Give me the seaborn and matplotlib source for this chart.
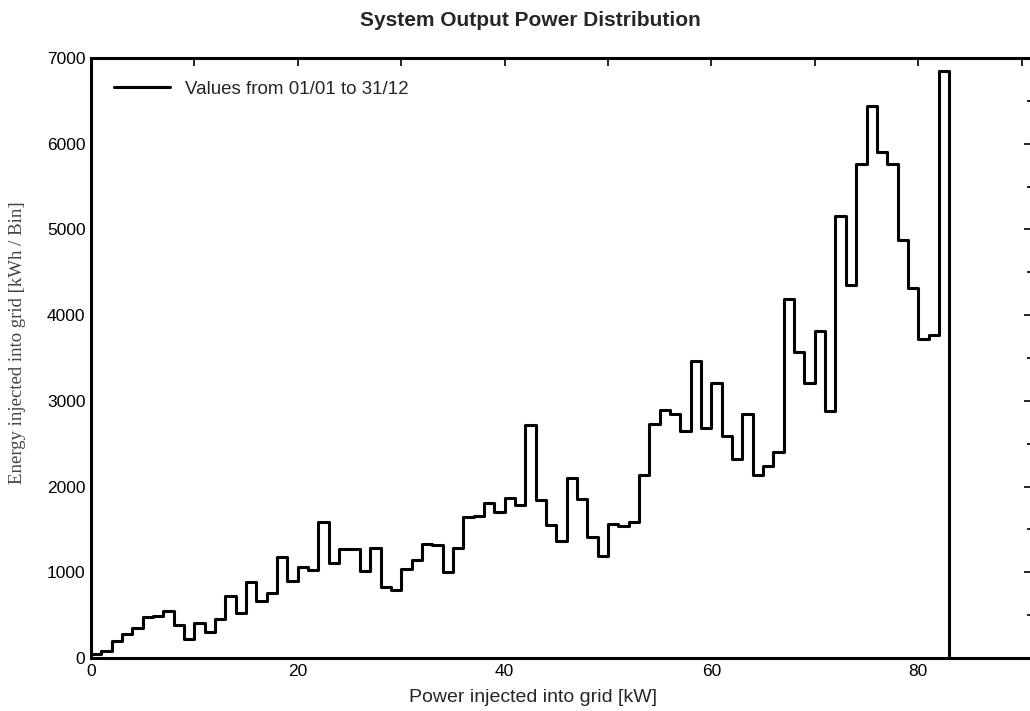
import numpy as np
import pandas as pd
import matplotlib
matplotlib.use("Agg")
import matplotlib.pyplot as plt
from matplotlib.ticker import MultipleLocator
import seaborn as sns

# Energy per 1 kW bin [kWh / Bin], bins 0-1 ... 82-83 kW
energy_kwh = [
    43, 82, 199, 277, 347, 483, 491, 546, 386, 219,
    413, 304, 456, 728, 522, 888, 670, 756, 1184, 900,
    1060, 1029, 1590, 1114, 1275, 1270, 1017, 1286, 834, 795,
    1040, 1138, 1333, 1313, 1009, 1282, 1640, 1652, 1808, 1699,
    1863, 1785, 2724, 1839, 1555, 1360, 2096, 1855, 1411, 1192,
    1566, 1543, 1582, 2139, 2730, 2891, 2841, 2646, 3464, 2685,
    3211, 2587, 2323, 2852, 2131, 2236, 2405, 4189, 3569, 3211,
    3815, 2876, 5159, 4352, 5763, 6438, 5907, 5763, 4878, 4314,
    3717, 3764, 6854,
]
bin_width_kw = 1
legend_label = "Values from 01/01 to 31/12"
title_text = "System Output Power Distribution"
xlabel_text = "Power injected into grid [kW]"
ylabel_text = "Energy injected into grid [kWh / Bin]"

edges = np.arange(len(energy_kwh) + 1) * bin_width_kw
vals = list(energy_kwh) + [0]
df = pd.DataFrame({"power": edges, "energy": vals})

sns.set_style("white")
plt.rcParams["font.family"] = ["Liberation Sans", "DejaVu Sans"]

fig = plt.figure(figsize=(10.30, 7.11), dpi=100)
W, H = 1030, 711
left, right, top, bottom = 91, 1032, 58, 658
ax = fig.add_axes([left / W, 1 - bottom / H, (right - left) / W, (bottom - top) / H])

sns.lineplot(data=df, x="power", y="energy", drawstyle="steps-post",
             color="black", linewidth=2.2, label=legend_label, ax=ax,
             estimator=None, sort=False)

ax.set_xlim(0, (right - left) / 10.34)
ax.set_ylim(0, 7000)
ax.xaxis.set_major_locator(MultipleLocator(20))
ax.xaxis.set_minor_locator(MultipleLocator(10))
ax.yaxis.set_major_locator(MultipleLocator(1000))
ax.yaxis.set_minor_locator(MultipleLocator(500))
ax.tick_params(which="both", direction="in", top=True, right=True,
               labelsize=12.5, width=1.2, colors="black", pad=4)
ax.tick_params(which="major", length=6)
ax.tick_params(which="minor", length=3.5)
ax.tick_params(axis="x", which="minor", length=6)
for s in ax.spines.values():
    s.set_linewidth(2.2)
    s.set_color("black")

ax.set_xlabel(xlabel_text, fontsize=14)
ax.xaxis.label.set_va("center")
ax.xaxis.set_label_coords((533 - left) / (right - left), -40 / 600)
ax.set_ylabel(ylabel_text, fontsize=13.5, family=["Liberation Serif", "DejaVu Serif"],
              color="#444444")
ax.yaxis.label.set_va("center")
ax.yaxis.set_label_coords((18 - left) / (right - left), (658 - 343) / 600)

fig.text(530 / W, 1 - 21 / H, title_text, ha="center", va="center",
         fontsize=15, fontweight="bold")

leg = ax.legend(loc="upper left", frameon=False, fontsize=13.5, handlelength=3,
                borderaxespad=0.8, handletextpad=0.8)
for line in leg.get_lines():
    line.set_linewidth(2.2)

fig.savefig("out.png", dpi=100)
